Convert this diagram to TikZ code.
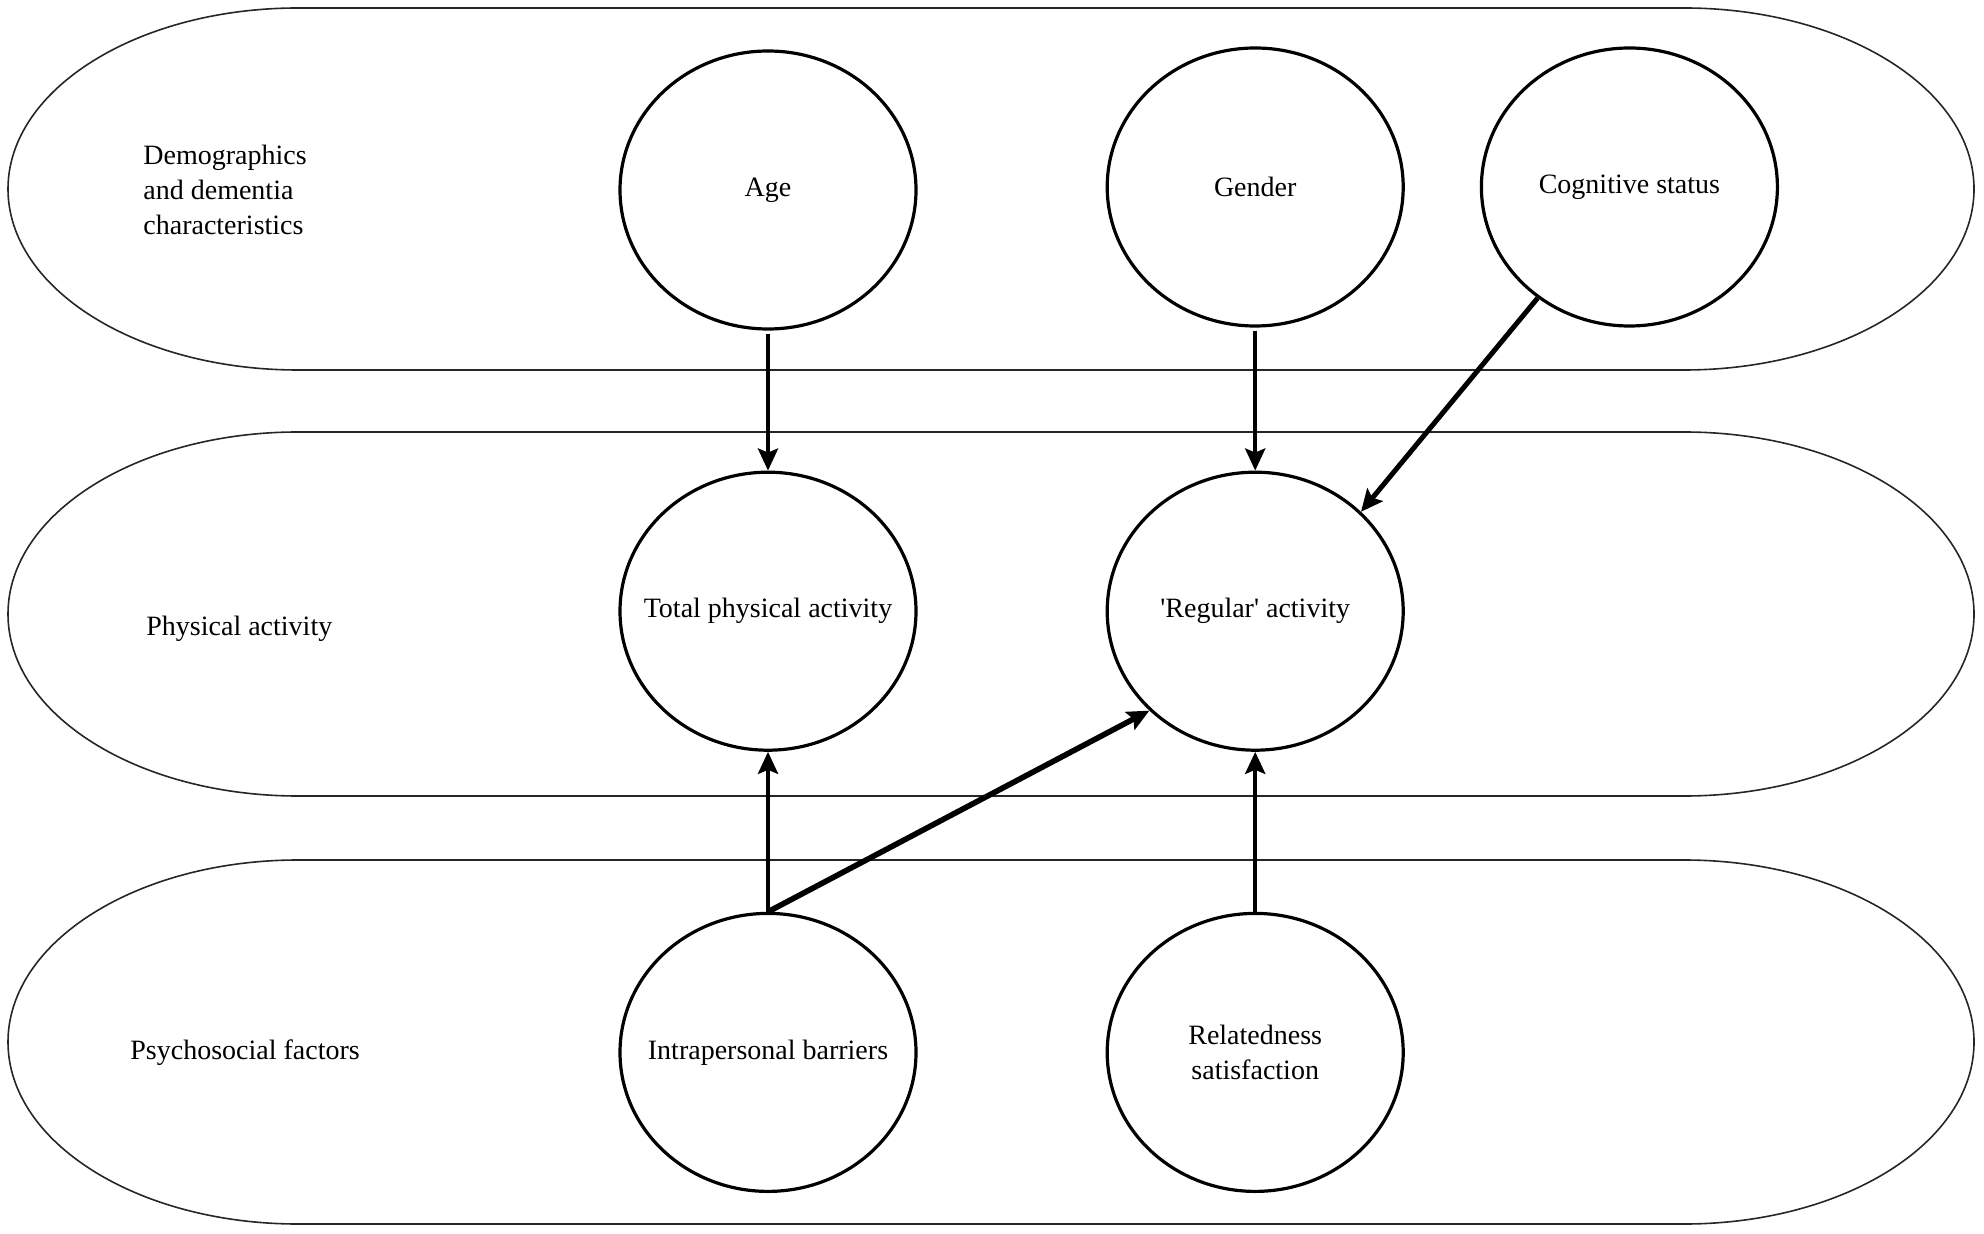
\documentclass[tikz,border=0pt]{standalone}
\usepackage{fontspec}
\setmainfont{Liberation Serif}
\usetikzlibrary{shapes.geometric,positioning,arrows.meta}

\begin{document}
\begin{tikzpicture}[x=0.5pt,y=-0.5pt,
    font=\fontsize{14pt}{17.5pt}\selectfont,
    var/.style={ellipse,draw,line width=1.6pt,minimum width=148pt,minimum height=139pt,inner sep=0pt},
    band/.style={draw,line width=0.8pt,black!85},
    arr/.style={-{Stealth[length=11pt,width=10pt,inset=2pt]},line width=2.2pt}]
    \useasboundingbox (0,0) rectangle (1984,1234);

    \draw[band] (298,8) -- (1684,8) arc[start angle=-90,end angle=90,x radius=290,y radius=181] -- (298,370) arc[start angle=90,end angle=270,x radius=290,y radius=181] -- cycle;
    \draw[band] (298,432) -- (1684,432) arc[start angle=-90,end angle=90,x radius=290,y radius=182] -- (298,796) arc[start angle=90,end angle=270,x radius=290,y radius=182] -- cycle;
    \draw[band] (298,860) -- (1684,860) arc[start angle=-90,end angle=90,x radius=290,y radius=182] -- (298,1224) arc[start angle=90,end angle=270,x radius=290,y radius=182] -- cycle;

    \node(demo)[align=left,anchor=west,inner sep=0pt] at (143,190) {Demographics\\and dementia\\characteristics};
    \node(pa)[anchor=west,inner sep=0pt] at (146,629) {Physical activity};
    \node(psy)[anchor=west,inner sep=0pt] at (130,1053) {Psychosocial factors};

    \node(age)[var,label=center:Age] at (768,190) {};
    \node(gender)[var,right=94pt of age,yshift=1.5pt,label=center:Gender] {};
    \node(cog)[var,right=37.5pt of gender,label=center:Cognitive status] {};
    \node(tpa)[var,below=70pt of age,label=center:Total physical activity] {};
    \node(reg)[var,below=71.5pt of gender,label=center:\textquotesingle Regular\textquotesingle{} activity] {};
    \node(ipb)[var,below=80pt of tpa,label=center:Intrapersonal barriers] {};
    \node(rsat)[var,below=80pt of reg,label={[align=center]center:Relatedness\\satisfaction}] {};

    \draw[arr,shorten <=1.5pt] (age) -- (tpa);
    \draw[arr,shorten <=1.5pt] (gender) -- (reg);
    \draw[arr,line width=2.5pt] (cog) -- (reg.north east);
    \draw[arr] (ipb) -- (tpa);
    \draw[arr,line width=2.8pt] (ipb.north) -- (reg.south west);
    \draw[arr] (rsat) -- (reg);
\end{tikzpicture}
\end{document}
